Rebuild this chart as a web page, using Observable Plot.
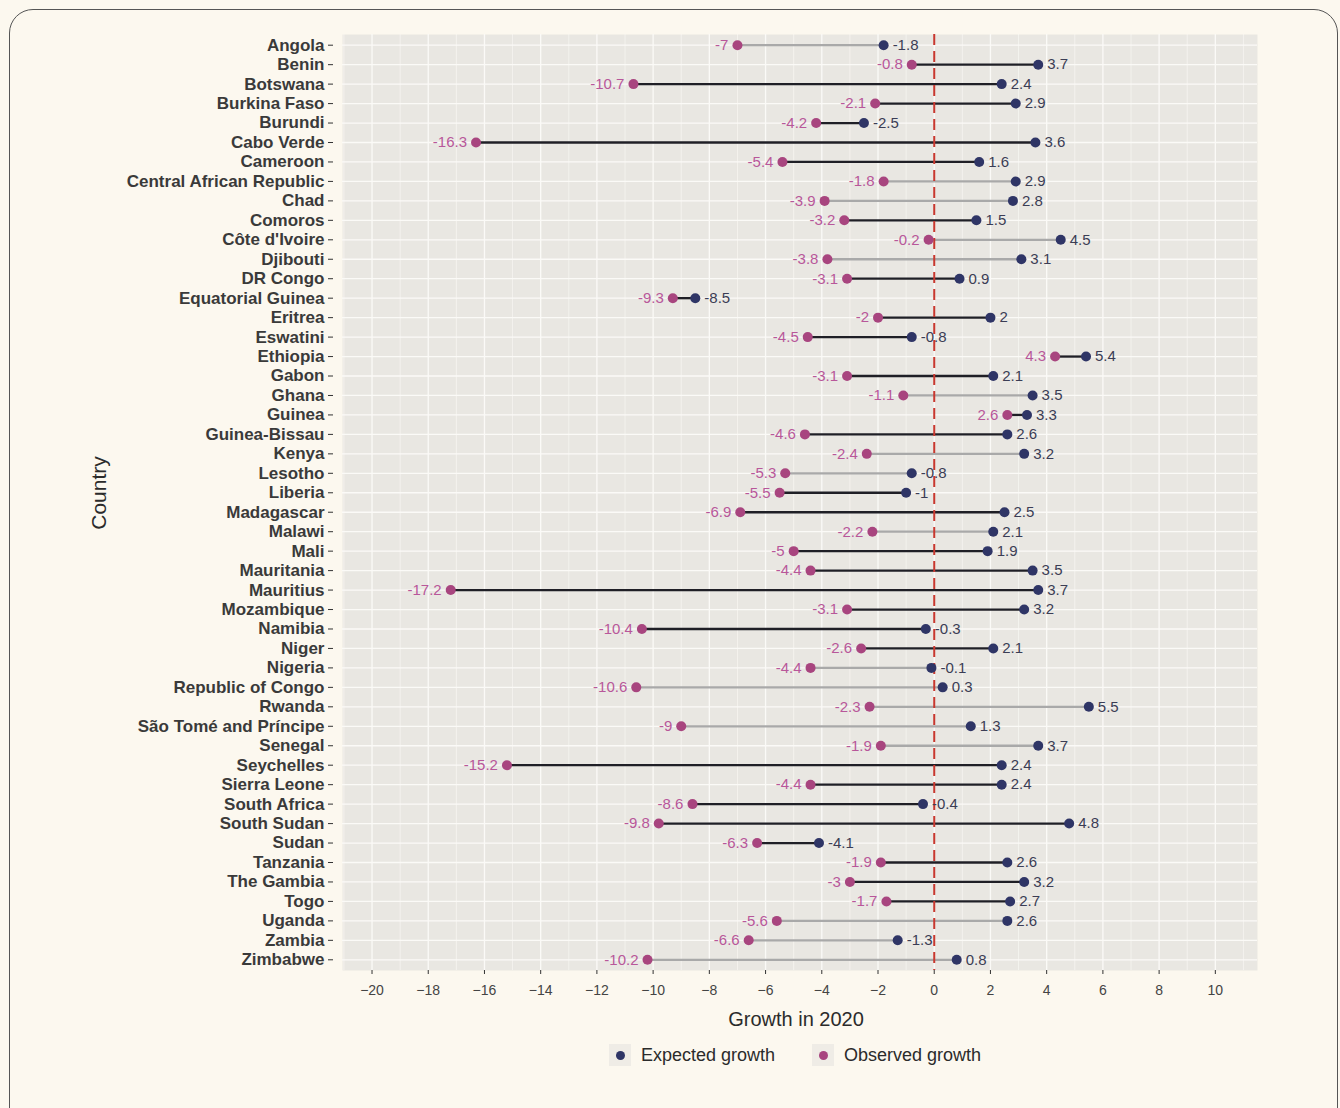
<!DOCTYPE html>
<html>
<head>
<meta charset="utf-8">
<script src="https://cdn.jsdelivr.net/npm/d3@7"></script>
<script src="https://cdn.jsdelivr.net/npm/@observablehq/plot@0.6"></script>
<style>
  html, body { margin: 0; padding: 0; background: #fcf8ef; }
  #page { position: relative; width: 1340px; height: 1108px; overflow: hidden; background: #fcf8ef;
          font-family: "Liberation Sans", Arial, sans-serif; }
  #card { position: absolute; left: 9px; top: 9px; width: 1327px; height: 1140px;
          border: 1.5px solid #555; border-radius: 24px; background: #fcf8ef; }
  #chart { position: absolute; left: 0; top: 0; }
  .ytitle { position: absolute; left: 99px; top: 493px; transform: translate(-50%, -50%) rotate(-90deg);
            font-size: 21px; color: #2b2b2b; white-space: nowrap; }
  .xtitle { position: absolute; left: 796px; top: 1019px; transform: translate(-50%, -50%);
            font-size: 20px; color: #2b2b2b; white-space: nowrap; }
  .legend { position: absolute; left: 0; top: 1043px; width: 1340px; height: 24px; }
  .legend .item { position: absolute; top: 0; display: flex; align-items: center; height: 24px;
                  font-size: 18px; color: #2b2b2b; white-space: nowrap; }
  .legend .key { width: 22px; height: 22px; background: #efece6; display: flex; align-items: center;
                 justify-content: center; margin-right: 10px; }
  .legend .dot { width: 9px; height: 9px; border-radius: 50%; }
</style>
</head>
<body>
<div id="page">
  <div id="card"></div>
  <div id="chart"></div>
  <div class="ytitle">Country</div>
  <div class="xtitle">Growth in 2020</div>
  <div class="legend">
    <div class="item" style="left:609px"><span class="key"><span class="dot" style="background:#2f3566"></span></span>Expected growth</div>
    <div class="item" style="left:812px"><span class="key"><span class="dot" style="background:#a8457f"></span></span>Observed growth</div>
  </div>
</div>
<script>
// Growth in 2020 (%): expected (pre-pandemic forecast) vs observed, by country
const countries = [
  "Angola", "Benin", "Botswana", "Burkina Faso", "Burundi", "Cabo Verde", "Cameroon",
  "Central African Republic", "Chad", "Comoros", "Côte d'Ivoire", "Djibouti", "DR Congo",
  "Equatorial Guinea", "Eritrea", "Eswatini", "Ethiopia", "Gabon", "Ghana", "Guinea",
  "Guinea-Bissau", "Kenya", "Lesotho", "Liberia", "Madagascar", "Malawi", "Mali",
  "Mauritania", "Mauritius", "Mozambique", "Namibia", "Niger", "Nigeria", "Republic of Congo",
  "Rwanda", "São Tomé and Príncipe", "Senegal", "Seychelles", "Sierra Leone", "South Africa",
  "South Sudan", "Sudan", "Tanzania", "The Gambia", "Togo", "Uganda", "Zambia", "Zimbabwe"
];
const expected = [
  -1.8, 3.7, 2.4, 2.9, -2.5, 3.6, 1.6,
  2.9, 2.8, 1.5, 4.5, 3.1, 0.9,
  -8.5, 2, -0.8, 5.4, 2.1, 3.5, 3.3,
  2.6, 3.2, -0.8, -1, 2.5, 2.1, 1.9,
  3.5, 3.7, 3.2, -0.3, 2.1, -0.1, 0.3,
  5.5, 1.3, 3.7, 2.4, 2.4, -0.4,
  4.8, -4.1, 2.6, 3.2, 2.7, 2.6, -1.3, 0.8
];
const observed = [
  -7, -0.8, -10.7, -2.1, -4.2, -16.3, -5.4,
  -1.8, -3.9, -3.2, -0.2, -3.8, -3.1,
  -9.3, -2, -4.5, 4.3, -3.1, -1.1, 2.6,
  -4.6, -2.4, -5.3, -5.5, -6.9, -2.2, -5,
  -4.4, -17.2, -3.1, -10.4, -2.6, -4.4, -10.6,
  -2.3, -9, -1.9, -15.2, -4.4, -8.6,
  -9.8, -6.3, -1.9, -3, -1.7, -5.6, -6.6, -10.2
];
// Country grouping shown by the connecting segment
const tier = [
  "B", "A", "A", "A", "A", "A", "A",
  "B", "B", "A", "B", "B", "A",
  "A", "A", "A", "A", "A", "B", "A",
  "A", "B", "B", "A", "A", "B", "A",
  "A", "A", "A", "A", "A", "B", "B",
  "B", "B", "B", "A", "A", "A",
  "A", "A", "A", "A", "A", "B", "B", "B"
];
const xTicks = d3.range(-20, 11, 2);
const xMinor = d3.range(-21, 12, 2);

const data = countries.map((country, i) => ({
  country, expected: expected[i], observed: observed[i], tier: tier[i]
}));

const font = "'Liberation Sans', Arial, sans-serif";

const chart = Plot.plot({
  width: 1340,
  height: 1000,
  marginLeft: 342,
  marginRight: 83,
  marginTop: 34,
  marginBottom: 30,
  style: { background: "transparent", fontFamily: font, overflow: "visible" },
  x: { domain: [-21.05, 11.5] },
  y: { domain: countries, padding: 0.55, round: false },
  color: { domain: ["A", "B"], range: ["#1f1f26", "#a9a9a9"] },
  marks: [
    Plot.frame({ fill: "#e9e7e2", stroke: null }),
    Plot.ruleX(xMinor, { stroke: "#fbfaf7", strokeWidth: 0.6 }),
    Plot.ruleX(xTicks, { stroke: "#fbfaf7", strokeWidth: 1.3 }),
    Plot.ruleY(countries, { stroke: "#fbfaf7", strokeWidth: 1.3 }),
    Plot.link(data, {
      x1: "observed", x2: "expected", y1: "country", y2: "country",
      stroke: "tier", strokeWidth: 2.3
    }),
    Plot.ruleX([0], { stroke: "#c8382f", strokeWidth: 2, strokeDasharray: "11,6" }),
    Plot.dot(data, { x: "observed", y: "country", r: 5, fill: "#a8457f" }),
    Plot.dot(data, { x: "expected", y: "country", r: 5, fill: "#2f3566" }),
    Plot.text(data, {
      x: "observed", y: "country", text: d => String(d.observed),
      textAnchor: "end", dx: -9, fill: "#b8579a", fontSize: 15
    }),
    Plot.text(data, {
      x: "expected", y: "country", text: d => String(d.expected),
      textAnchor: "start", dx: 9, fill: "#3b3d55", fontSize: 15
    }),
    Plot.axisX({
      ticks: xTicks, tickSize: 4, tickPadding: 11, fontSize: 14,
      fill: "#444", stroke: "#333", label: null
    }),
    Plot.axisY({
      tickSize: 5, tickPadding: 4, dx: -9, fontSize: 17, fontWeight: "bold",
      fill: "#3a3a3a", stroke: "#333", label: null
    })
  ]
});

document.getElementById("chart").appendChild(chart);
</script>
</body>
</html>
